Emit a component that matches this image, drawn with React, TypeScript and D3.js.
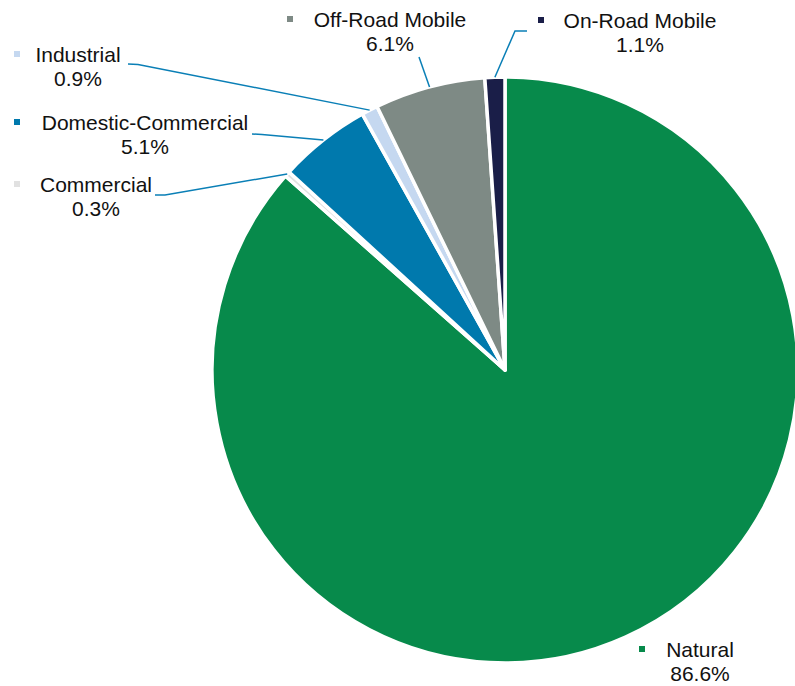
import { useEffect, useRef } from "react";
import * as d3 from "d3";

const categories = ["Natural", "Commercial", "Domestic-Commercial", "Industrial", "Off-Road Mobile", "On-Road Mobile"];
const shares = [86.6, 0.3, 5.1, 0.9, 6.1, 1.1];
const colors = ["#078a4b", "#e1e1e1", "#0079ad", "#c5d8f0", "#7e8a85", "#1a1e48"];

// label layout: text centre x, first baseline y, marker x, leader elbow points (null = no leader)
const labelLayout: { cx: number; y: number; mx: number; leader: [number, number][] | null }[] = [
  { cx: 700, y: 657, mx: 639, leader: null },
  { cx: 96, y: 192, mx: 14, leader: [[155, 195], [165, 195]] },
  { cx: 145, y: 130, mx: 14, leader: [[252, 134], [262, 134.5]] },
  { cx: 78, y: 62, mx: 14, leader: [[128, 64], [138, 64.5]] },
  { cx: 390, y: 27, mx: 287, leader: [[419, 57]] },
  { cx: 640, y: 28, mx: 538, leader: [[527, 31], [515, 31]] },
];

export default function App() {
  const svgRef = useRef<SVGSVGElement>(null);

  useEffect(() => {
    if (!svgRef.current) return;
    const svg = d3.select(svgRef.current);
    svg.selectAll("*").remove();

    const cx = 505;
    const cy = 370;
    const r = 293;

    const pie = d3.pie<number>().sort(null).value(d => d);
    const arcs = pie(shares);
    const arc = d3.arc<d3.PieArcDatum<number>>().innerRadius(0).outerRadius(r);

    const g = svg.append("g").attr("transform", `translate(${cx},${cy})`);
    g.selectAll("path")
      .data(arcs)
      .join("path")
      .attr("d", arc)
      .attr("fill", (_, i) => colors[i])
      .attr("stroke", "#fff")
      .attr("stroke-width", 3.5)
      .attr("stroke-linejoin", "round");

    const line = d3.line();
    arcs.forEach((a, i) => {
      const lay = labelLayout[i];
      if (lay.leader) {
        const mid = (a.startAngle + a.endAngle) / 2;
        const end: [number, number] = [cx + r * Math.sin(mid), cy - r * Math.cos(mid)];
        svg.append("path")
          .attr("d", line([...lay.leader, end]))
          .attr("fill", "none")
          .attr("stroke", "#0a7fb6")
          .attr("stroke-width", 1.5);
      }
      svg.append("rect")
        .attr("x", lay.mx)
        .attr("y", lay.y - 11)
        .attr("width", 6)
        .attr("height", 6)
        .attr("fill", colors[i]);
      const t = svg.append("text")
        .attr("text-anchor", "middle")
        .attr("font-family", "Liberation Sans, Arial, sans-serif")
        .attr("font-size", 21)
        .attr("fill", "#111");
      t.append("tspan").attr("x", lay.cx).attr("y", lay.y).text(categories[i]);
      t.append("tspan").attr("x", lay.cx).attr("y", lay.y + 24).text(`${shares[i].toFixed(1)}%`);
    });
  }, []);

  return (
    <svg ref={svgRef} width={795} height={686} style={{ position: "absolute", left: 0, top: 0 }} />
  );
}
